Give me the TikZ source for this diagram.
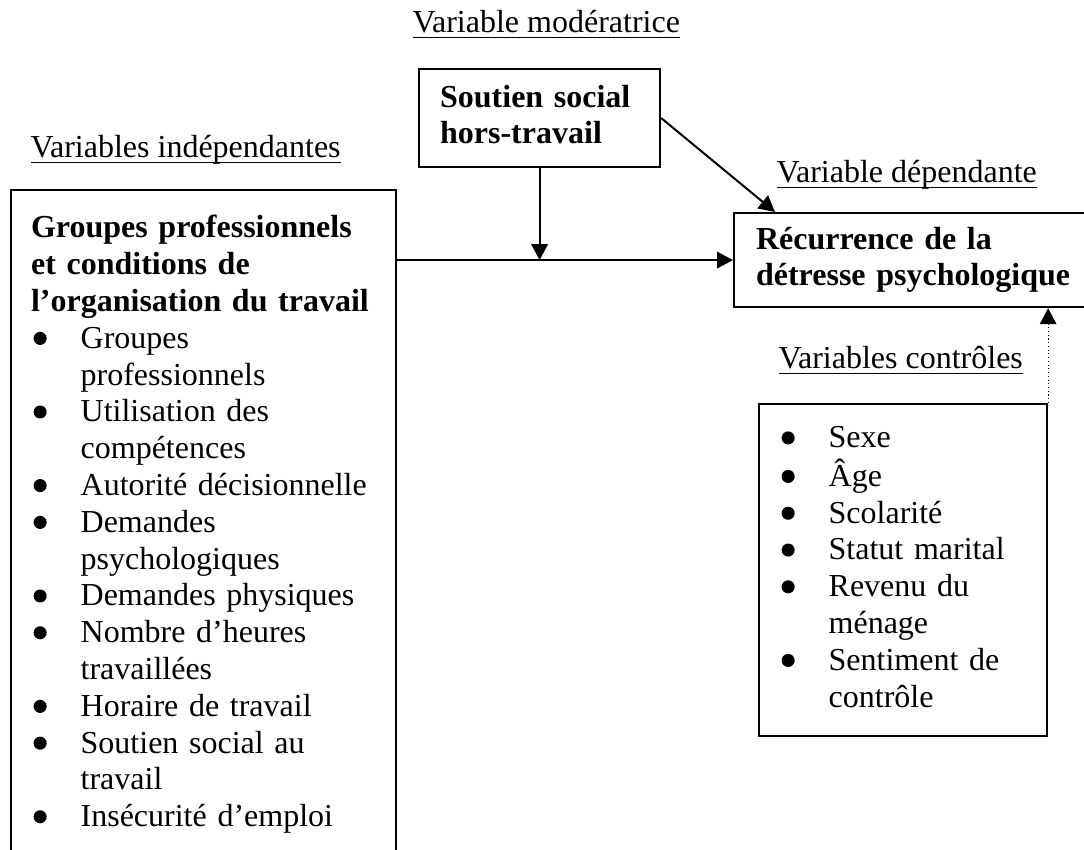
\documentclass[tikz,border=0pt]{standalone}
\usepackage{fontspec}
\setmainfont{Liberation Serif}
\usetikzlibrary{arrows.meta,calc}

\newsavebox{\soulbox}
\newcommand{\souligne}[1]{\sbox{\soulbox}{#1}\rlap{\rule[-2.3pt]{\wd\soulbox}{0.55pt}}\usebox{\soulbox}}
\newcommand{\puce}{\hspace*{3.4pt}\makebox[0pt]{\tikz[x=1pt, y=1pt, baseline=0pt]\fill (0,3.7) circle [radius=2.45];}}
\newcommand{\gras}[1]{\multicolumn{2}{@{}l@{}}{\textbf{#1}}}

\begin{document}
\begin{tikzpicture}[x=0.375pt, y=-0.375pt,
    font=\fontsize{12pt}{13.8pt}\selectfont,
    boite/.style={draw, line width=0.8pt, anchor=north west, align=left},
    titre/.style={anchor=base west, inner sep=0pt},
    fleche/.style={line width=0.75pt, -{Triangle[length=6pt, width=6.2pt]}}]
    \useasboundingbox (0,0) rectangle (1084,849);

    % headings
    \node[titre] (tmod) at (412,32) {\souligne{Variable modératrice}};
    \node[titre] (tindep) at (30,157) {\souligne{Variables indépendantes}};
    \node[titre] (tdep) at (776,182) {\souligne{Variable dépendante}};
    \node[titre] (tctrl) at (778,368) {\souligne{Variables contrôles}};

    % boxes
    \node[boite, inner xsep=7.9pt, text width=74.6pt, minimum height=36.75pt] (mod) at (418,68)
        {\begin{tabular}{@{}l@{}}\textbf{Soutien social}\\\textbf{hors-travail}\end{tabular}};
    \node[boite, inner xsep=8.25pt, text width=121pt, minimum height=35.25pt] (dep) at (733,212)
        {\begin{tabular}{@{}l@{}}\textbf{Récurrence de la}\\\textbf{détresse psychologique}\end{tabular}};
    \node[boite, inner xsep=7.5pt, inner ysep=8.25pt, text width=129.4pt] (indep) at (10,189)
        {\begin{tabular}{@{}p{18.6pt}@{}l@{}}
        \gras{Groupes professionnels}\\
        \gras{et conditions de}\\
        \gras{l'organisation du travail}\\
        \puce & Groupes\\
              & professionnels\\
        \puce & Utilisation des\\
              & compétences\\
        \puce & Autorité décisionnelle\\
        \puce & Demandes\\
              & psychologiques\\
        \puce & Demandes physiques\\
        \puce & Nombre d'heures\\
              & travaillées\\
        \puce & Horaire de travail\\
        \puce & Soutien social au\\
              & travail\\
        \puce & Insécurité d'emploi
        \end{tabular}};
    \node[boite, inner xsep=7.5pt, text width=93pt, minimum height=124.5pt] (ctrl) at (758,403)
        {\begin{tabular}{@{}p{18.6pt}@{}l@{}}
        \puce & Sexe\\
        \puce & Âge\\
        \puce & Scolarité\\
        \puce & Statut marital\\
        \puce & Revenu du\\
              & ménage\\
        \puce & Sentiment de\\
              & contrôle
        \end{tabular}};

    % arrows
    \draw[fleche] (mod.south) -- (mod.south |- dep.west);
    \draw[fleche] (indep.east |- dep.west) -- (dep.west);
    \draw[fleche] (mod.east) -- ($(dep.north west)+(42,0)$);
    \draw[fleche, line width=0.4pt, densely dotted] (ctrl.north east) -- (ctrl.north east |- dep.south);
\end{tikzpicture}
\end{document}
